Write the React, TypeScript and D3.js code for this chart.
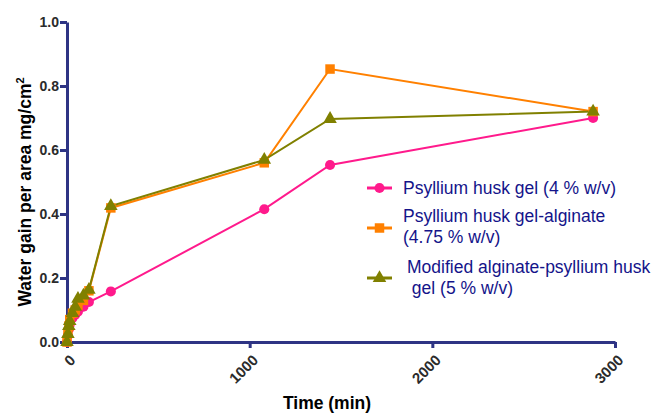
import React, { useEffect, useRef } from 'react';
import * as d3 from 'd3';

const times = [0, 5, 10, 15, 30, 45, 60, 90, 120, 240, 1080, 1440, 2880];
const psyllium = [0, 0.02, 0.04, 0.055, 0.075, 0.085, 0.095, 0.11, 0.125, 0.158, 0.415, 0.553, 0.7];
const alginate = [0, 0.03, 0.05, 0.07, 0.09, 0.1, 0.115, 0.13, 0.16, 0.419, 0.56, 0.853, 0.72];
const modified = [0, 0.025, 0.05, 0.065, 0.09, 0.11, 0.135, 0.145, 0.163, 0.425, 0.569, 0.697, 0.72];

const xTicks = [0, 1000, 2000, 3000];
const yTicks = [0, 0.2, 0.4, 0.6, 0.8, 1.0];

const W = 654;
const H = 414;
const AXIS = '#2e3484';
const TEXT = '#2b2b2b';
const LEGEND = '#14148a';
const FONT = 'Liberation Sans, Arial, sans-serif';

const series = [
  { name: ['Psyllium husk gel (4 % w/v)'], values: psyllium, color: '#ff1a8c', shape: 'circle' },
  { name: ['Psyllium husk gel-alginate', '(4.75 % w/v)'], values: alginate, color: '#ff8000', shape: 'square' },
  { name: ['Modified alginate-psyllium husk', ' gel (5 % w/v)'], values: modified, color: '#808000', shape: 'triangle' },
];

export default function App() {
  const ref = useRef<SVGSVGElement>(null);

  useEffect(() => {
    const svg = d3.select(ref.current);
    svg.selectAll('*').remove();

    const m = { left: 67, right: W - 615, top: 22, bottom: H - 342 };
    const x = d3.scaleLinear().domain([0, 3000]).range([m.left, W - m.right]);
    const y = d3.scaleLinear().domain([0, 1]).range([H - m.bottom, m.top]);

    svg.append('rect').attr('width', W).attr('height', H).attr('fill', '#fff');

    // axes
    const yAxis = svg.append('g')
      .attr('transform', `translate(${m.left},0)`)
      .call(d3.axisLeft(y).tickValues(yTicks).tickFormat(d3.format('.1f')).tickSize(7).tickSizeOuter(0));
    yAxis.select('.domain').attr('stroke', AXIS).attr('stroke-width', 3);
    yAxis.selectAll('.tick line').attr('stroke', AXIS).attr('stroke-width', 3);
    yAxis.selectAll('.tick text')
      .attr('fill', TEXT).attr('font-family', FONT).attr('font-weight', 'bold').attr('font-size', 14)
      .attr('x', -8);

    const xAxis = svg.append('g')
      .attr('transform', `translate(0,${H - m.bottom})`)
      .call(d3.axisBottom(x).tickValues(xTicks).tickFormat(d3.format('d')).tickSize(6).tickSizeOuter(0));
    xAxis.select('.domain').attr('stroke', AXIS).attr('stroke-width', 3);
    xAxis.selectAll('.tick line').attr('stroke', AXIS).attr('stroke-width', 3);
    xAxis.selectAll('.tick text')
      .attr('fill', TEXT).attr('font-family', FONT).attr('font-weight', 'bold').attr('font-size', 15)
      .attr('text-anchor', 'end')
      .attr('dy', null)
      .attr('y', 0)
      .attr('transform', 'translate(9,19) rotate(-45)');

    // axis titles
    const yt = svg.append('text')
      .attr('transform', `translate(31,${(m.top + H - m.bottom) / 2 + 10}) rotate(-90)`)
      .attr('text-anchor', 'middle')
      .attr('font-family', FONT).attr('font-weight', 'bold').attr('font-size', 17.5).attr('fill', '#000');
    yt.append('tspan').text('Water gain per area mg/cm');
    yt.append('tspan').attr('dy', -7).attr('font-size', 11).text('2');

    svg.append('text')
      .attr('x', 327).attr('y', 409)
      .attr('text-anchor', 'middle')
      .attr('font-family', FONT).attr('font-weight', 'bold').attr('font-size', 17.5).attr('fill', '#000')
      .text('Time (min)');

    const symbolFor = (shape: string) =>
      shape === 'circle' ? d3.symbol(d3.symbolCircle, 80)
        : shape === 'square' ? d3.symbol(d3.symbolSquare, 90)
        : d3.symbol(d3.symbolTriangle, 80);

    const line = d3.line<number>().x((_, i) => x(times[i])).y(d => y(d));

    series.forEach(s => {
      svg.append('path')
        .datum(s.values)
        .attr('d', line)
        .attr('fill', 'none')
        .attr('stroke', s.color)
        .attr('stroke-width', 2);
    });
    series.forEach(s => {
      svg.append('g').selectAll('path')
        .data(s.values)
        .enter().append('path')
        .attr('transform', (d, i) => `translate(${x(times[i])},${y(d)})`)
        .attr('d', symbolFor(s.shape)())
        .attr('fill', s.color);
    });

    // legend
    const legendRows = [
      { ly: 188, tx: 403, ty: [194] },
      { ly: 228, tx: 403, ty: [222, 243] },
      { ly: 278, tx: 407, ty: [273, 294] },
    ];
    series.forEach((s, i) => {
      const r = legendRows[i];
      const g = svg.append('g');
      g.append('line')
        .attr('x1', 367).attr('x2', 392).attr('y1', r.ly).attr('y2', r.ly)
        .attr('stroke', s.color).attr('stroke-width', 3);
      g.append('path')
        .attr('transform', `translate(379.5,${r.ly})`)
        .attr('d', symbolFor(s.shape)())
        .attr('fill', s.color);
      s.name.forEach((t, j) => {
        g.append('text')
          .attr('x', r.tx).attr('y', r.ty[j])
          .attr('font-family', FONT).attr('font-size', 17.5).attr('fill', LEGEND)
          .attr('xml:space', 'preserve')
          .style('white-space', 'pre')
          .text(t);
      });
    });
  }, []);

  return (
    <svg ref={ref} width={W} height={H} style={{ position: 'absolute', left: 0, top: 0 }} />
  );
}
